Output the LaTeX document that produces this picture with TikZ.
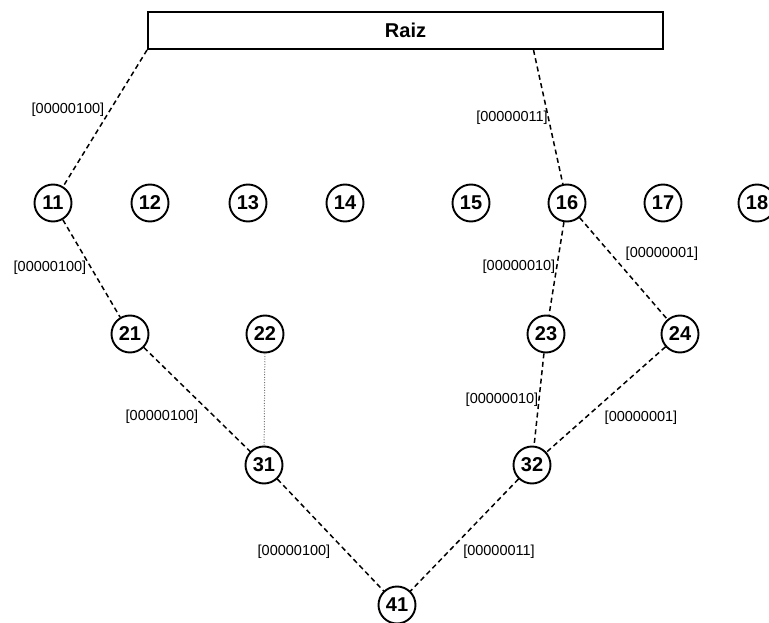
\documentclass[tikz,border=0pt]{standalone}
\usepackage{fontspec}
\setmainfont{Liberation Sans}
\begin{document}
\begin{tikzpicture}[x=1pt, y=-1pt,
    vertice/.style={circle, draw, line width=1.9pt, minimum size=37pt, inner sep=0pt,
        font=\fontsize{20}{20}\selectfont\bfseries},
    rotulo/.style={font=\fontsize{14.5}{16}\selectfont, inner sep=0pt},
    aresta/.style={line width=1.5pt, dash pattern=on 5pt off 3.5pt},
    fraca/.style={line width=1pt, dash pattern=on 1pt off 1.6pt, black!55}]
    \useasboundingbox (0,0) rectangle (769,623);

    % Draw the root box
    \node[draw, line width=1.9pt, minimum width=515pt, minimum height=37pt, inner sep=0pt,
        font=\fontsize{20}{20}\selectfont\bfseries] (raiz) at (405.5,30.5) {Raiz};

    % Draw the first level
    \foreach \n/\x in {11/53, 12/150, 13/248, 14/345, 15/471, 16/567, 17/663, 18/757}
        \node[vertice] (n\n) at (\x,203) {\n};

    % Draw the second and third levels
    \foreach \n/\x in {21/130, 22/265, 23/546, 24/680}
        \node[vertice] (n\n) at (\x,334) {\n};
    \foreach \n/\x in {31/264, 32/532}
        \node[vertice] (n\n) at (\x,465) {\n};
    \node[vertice] (n41) at (397,605) {41};

    % Draw the edges
    \draw[aresta] (raiz.south west) -- (n11);
    \draw[aresta] ([xshift=128pt]raiz.south) -- (n16);
    \draw[aresta] (n11) -- (n21);
    \draw[aresta] (n21) -- (n31);
    \draw[fraca] (n22) -- (n31);
    \draw[aresta] (n16) -- (n23);
    \draw[aresta] (n16) -- (n24);
    \draw[aresta] (n23) -- (n32);
    \draw[aresta] (n24) -- (n32);
    \draw[aresta] (n31) -- (n41);
    \draw[aresta] (n32) -- (n41);

    % Add the labels of the edges
    \node[rotulo] (l1) at (68,110) {[00000100]};
    \node[rotulo] (l2) at (512,118) {[00000011]};
    \node[rotulo] (l3) at (50,268) {[00000100]};
    \node[rotulo] (l4) at (519,267) {[00000010]};
    \node[rotulo] (l5) at (662,254) {[00000001]};
    \node[rotulo] (l6) at (162,417) {[00000100]};
    \node[rotulo] (l7) at (502,400) {[00000010]};
    \node[rotulo] (l8) at (641,418) {[00000001]};
    \node[rotulo] (l9) at (294,552) {[00000100]};
    \node[rotulo] (l10) at (499,552) {[00000011]};
\end{tikzpicture}
\end{document}
